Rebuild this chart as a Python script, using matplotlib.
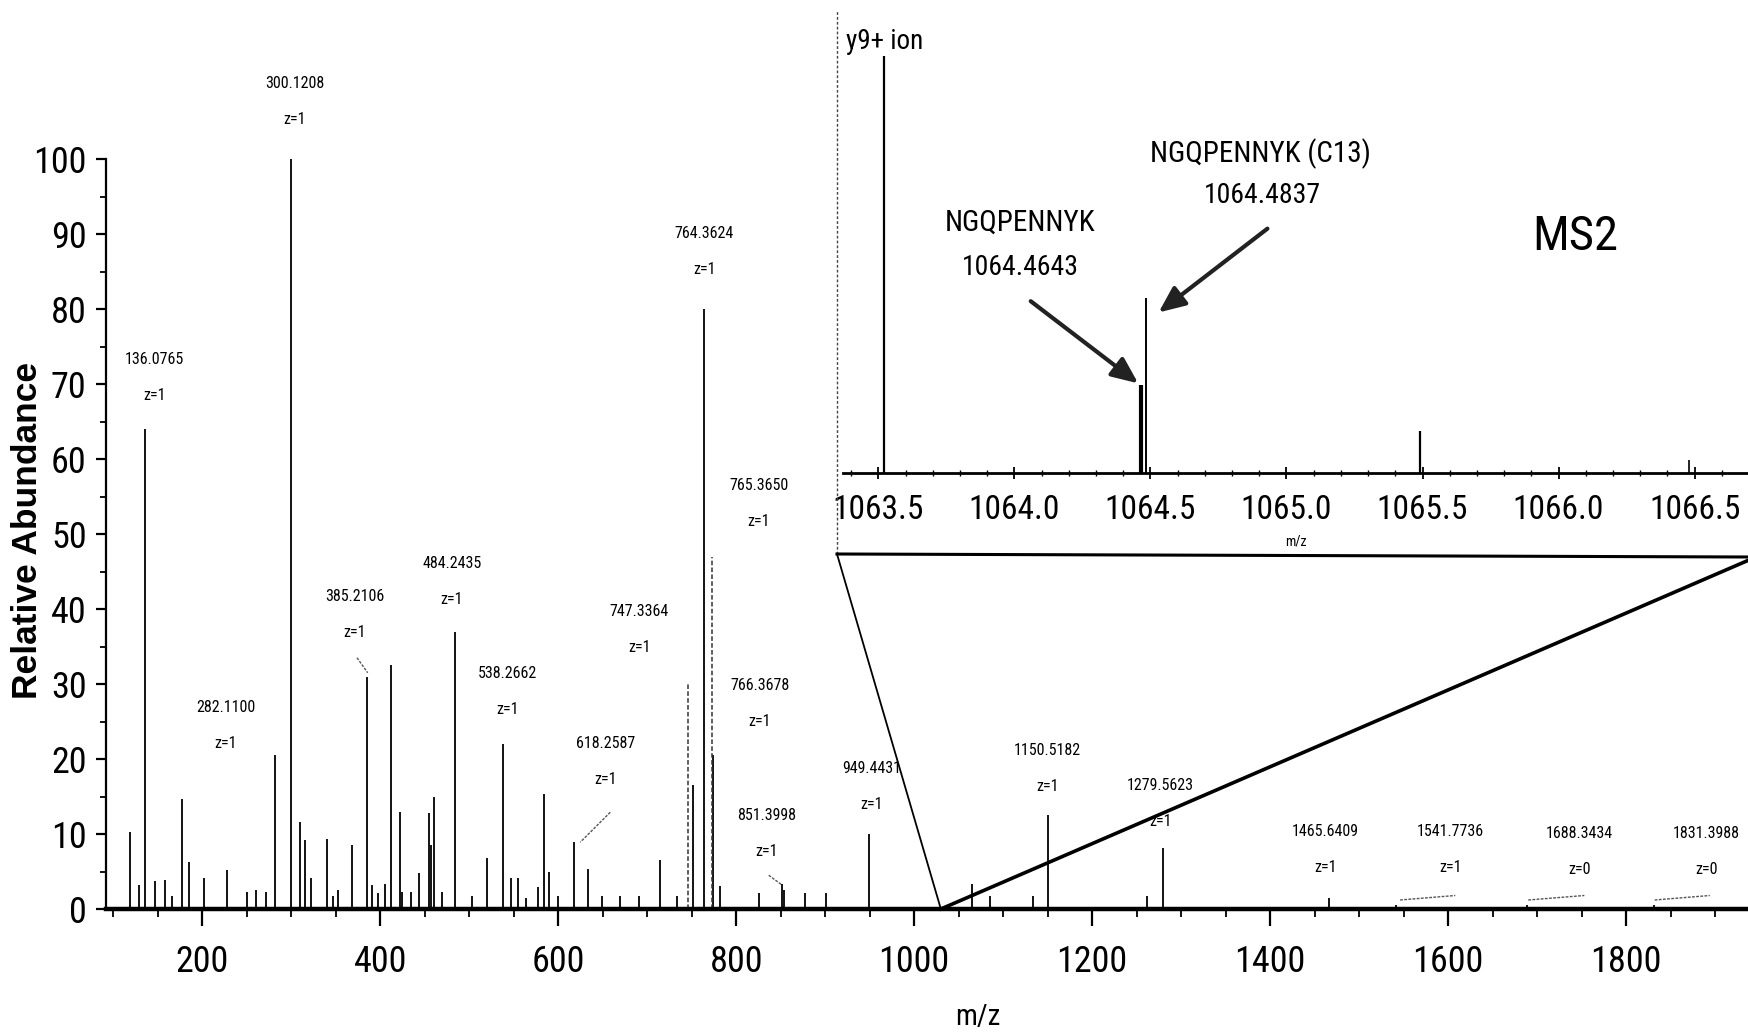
import matplotlib
matplotlib.use("Agg")
import matplotlib.pyplot as plt
from matplotlib import font_manager as fm
from matplotlib.lines import Line2D
from matplotlib.ticker import MultipleLocator, FormatStrFormatter

# pick the narrowest installed face for the condensed instrument lettering
_faces = [(f.name, f.stretch) for f in fm.fontManager.ttflist]
_names = {n for n, _ in _faces}
_cond = sorted({n for n, s in _faces if s in ('condensed', 'semi-condensed', 'extra-condensed',
                                               'ultra-condensed', 625, 500, 750)
                or 'Condensed' in n or 'Narrow' in n})
chosen = None
for cand in ['Liberation Sans Narrow', 'Roboto Condensed', 'Open Sans Condensed',
             'DejaVu Sans Condensed', 'Arial Narrow'] + _cond:
    if cand in _names:
        chosen = cand
        break
STRETCH = 'normal'
if chosen is None:
    if any(n == 'DejaVu Sans' and s in ('condensed', 'semi-condensed') for n, s in _faces):
        chosen, STRETCH = 'DejaVu Sans', 'condensed'
    elif 'Roboto' in _names:
        chosen = 'Roboto'
    else:
        chosen = 'Liberation Sans'
NARROW = [chosen, 'DejaVu Sans']
plt.rcParams['font.family'] = NARROW
plt.rcParams['font.stretch'] = STRETCH

# ---------------- data ----------------
peak_mz = [119.3, 129.5, 136.08, 146.7, 158, 166, 177, 185, 202.6, 227.4,
           250, 260, 272, 282.11, 300.12, 310, 316, 322.7, 340.7, 347,
           353, 368, 385.21, 390.6, 397.7, 406, 412, 422, 425, 435,
           444, 455, 457, 461, 470, 484.24, 502.8, 519.7, 538.27, 547,
           555, 564, 577, 584, 590, 600, 618.26, 634, 649, 669,
           691, 715, 734, 745.5, 751, 764.36, 772.5, 774, 782, 826,
           851.4, 854, 877, 901, 949.44, 1065, 1085, 1134, 1150.52, 1262,
           1279.56, 1465.64, 1541.77, 1688.34, 1831.40]
peak_int = [10.3, 3.2, 64, 3.7, 3.9, 1.8, 14.7, 6.3, 4.1, 5.2,
            2.3, 2.6, 2.3, 20.5, 100, 11.6, 9.2, 4.1, 9.4, 1.7,
            2.6, 8.5, 31, 3.2, 2.1, 3.4, 32.5, 13, 2.3, 2.3,
            4.8, 12.8, 8.6, 15, 2.3, 37, 1.7, 6.8, 22, 4.1,
            4.2, 1.5, 3, 15.4, 5, 1.8, 9, 5.4, 1.7, 1.7,
            1.7, 6.5, 1.7, 30, 16.5, 80, 47, 20.5, 3.1, 2.2,
            3.3, 2.6, 2.2, 2.2, 10, 3.4, 1.7, 1.7, 12.5, 1.7,
            8.2, 1.5, 0.5, 0.5, 0.5]
dashed_peaks = [745.5, 772.5]

label_mz = ['136.0765', '300.1208', '282.1100', '385.2106', '484.2435',
            '538.2662', '618.2587', '747.3364', '764.3624', '765.3650',
            '766.3678', '851.3998', '949.4431', '1150.5182', '1279.5623',
            '1465.6409', '1541.7736', '1688.3434', '1831.3988']
label_z = ['z=1', 'z=1', 'z=1', 'z=1', 'z=1', 'z=1', 'z=1', 'z=1', 'z=1', 'z=1',
           'z=1', 'z=1', 'z=1', 'z=1', 'z=1', 'z=1', 'z=1', 'z=0', 'z=0']

inset_mz = [1063.52, 1064.4643, 1064.4837, 1065.49, 1066.48]
inset_int = [100, 21, 42, 10, 3]

# ---------------- layout (positions of annotations) ----------------
label_xy = [(146.1, 73.2), (304, 110.1), (226.3, 26.9), (371.7, 41.7), (480.7, 46.1),
            (543.4, 31.4), (653.6, 22.0), (691.2, 39.7), (763.9, 90.0), (825.3, 56.5),
            (826.6, 29.8), (834.1, 12.5), (951.9, 18.75), (1149.9, 21.1), (1276.4, 16.5),
            (1461.9, 10.4), (1602.3, 10.4), (1747.6, 10.0), (1890.5, 10.0)]
leaders = [((374, 33.5), (386, 31.5)), ((658.6, 12.9), (624.8, 8.9)),
           ((836.6, 4.5), (850.4, 3.3)), ((1546, 1.2), (1608, 1.8)),
           ((1690, 1.2), (1753, 1.8)), ((1832, 1.2), (1894, 1.8))]

W, H = 1749, 1036
fig = plt.figure(figsize=(W / 100, H / 100), dpi=100)

# ---------------- main spectrum ----------------
ax = fig.add_axes([106 / W, 127 / H, 1 - 106 / W, 750 / H])
ax.set_xlim(92, 1938)
ax.set_ylim(0, 100)
ax.patch.set_alpha(0)

solid_x = [m for m in peak_mz if m not in dashed_peaks]
solid_y = [i for m, i in zip(peak_mz, peak_int) if m not in dashed_peaks]
dash_x = [m for m in peak_mz if m in dashed_peaks]
dash_y = [i for m, i in zip(peak_mz, peak_int) if m in dashed_peaks]
ax.vlines(solid_x, 0, solid_y, colors='black', linewidth=1.3, clip_on=False)
ax.vlines(dash_x, 0, dash_y, colors='#333333', linewidth=1.1,
          linestyles=(0, (3, 1.5)), clip_on=False)

for txt, z, (lx, ly) in zip(label_mz, label_z, label_xy):
    ax.text(lx, ly, txt, ha='center', va='center', fontsize=11.5, clip_on=False)
    ax.text(lx, ly - 4.8, z, ha='center', va='center', fontsize=11.5, clip_on=False)
for (x0, y0), (x1, y1) in leaders:
    ax.plot([x0, x1], [y0, y1], color='#555555', lw=1.0, ls=(0, (2, 1)), clip_on=False)

for s in ['top', 'right']:
    ax.spines[s].set_visible(False)
ax.spines['bottom'].set_linewidth(3.2)
ax.spines['left'].set_linewidth(1.6)
ax.xaxis.set_major_locator(MultipleLocator(200))
ax.xaxis.set_minor_locator(MultipleLocator(50))
ax.yaxis.set_major_locator(MultipleLocator(10))
ax.yaxis.set_minor_locator(MultipleLocator(5))
ax.tick_params(axis='x', which='major', length=12, width=1.6, pad=13, labelsize=26)
ax.tick_params(axis='x', which='minor', length=6, width=1.3)
ax.tick_params(axis='y', which='major', length=7, width=1.6, pad=7, labelsize=26)
ax.tick_params(axis='y', which='minor', length=4, width=1.3)

fig.text(28 / W, 1 - 530 / H, 'Relative Abundance', rotation=90, ha='center', va='center',
         fontsize=25.5, fontweight='bold', family=['Liberation Sans', 'DejaVu Sans'],
         fontstretch='normal')
fig.text(978 / W, 1 - 1017 / H, 'm/z', ha='center', va='center', fontsize=21)

# ---------------- inset ----------------
ins = fig.add_axes([843 / W, 1 - 473 / H, 1 - 843 / W, 417 / H])
ins.set_xlim(1063.37, 1066.7)
ins.set_ylim(0, 100)
ins.patch.set_alpha(0)
for s in ['top', 'right', 'left']:
    ins.spines[s].set_visible(False)
ins.spines['bottom'].set_linewidth(2.0)
ins.vlines(inset_mz, 0, inset_int, colors='black', linewidth=[1.6, 3.0, 1.4, 1.6, 1.2])
ins.set_yticks([])
ins.xaxis.set_major_locator(MultipleLocator(0.5))
ins.xaxis.set_minor_locator(MultipleLocator(0.1))
ins.xaxis.set_major_formatter(FormatStrFormatter('%.1f'))
ins.tick_params(axis='x', which='major', direction='inout', length=8, width=1.3,
                pad=11, labelsize=24)
ins.tick_params(axis='x', which='minor', direction='inout', length=5, width=1.0)
ins.text(0.5, -0.165, 'm/z', transform=ins.transAxes, ha='center', va='center', fontsize=10)

ins.text(1063.38, 103.5, 'y9+ ion', ha='left', va='center', fontsize=19.5, clip_on=False)
ins.text(1064.022, 59.9, 'NGQPENNYK', ha='center', va='center', fontsize=21)
ins.text(1064.022, 49.4, '1064.4643', ha='center', va='center', fontsize=20)
ins.text(1064.904, 76.5, 'NGQPENNYK (C13)', ha='center', va='center', fontsize=21)
ins.text(1064.912, 66.6, '1064.4837', ha='center', va='center', fontsize=20)
ins.text(1066.063, 56.7, 'MS2', ha='center', va='center', fontsize=35)
arrow_kw = dict(arrowstyle='-|>,head_length=1.6,head_width=0.7', color='#222222',
                lw=3.0, shrinkA=0, shrinkB=0)
ins.annotate('', xy=(1064.455, 21.5), xytext=(1064.06, 41.2), arrowprops=arrow_kw)
ins.annotate('', xy=(1064.53, 38.5), xytext=(1064.93, 58.6), arrowprops=arrow_kw)

# box and zoom lines (figure coordinates)
bx0, by0 = 837 / W, 1 - 554 / H
fig.add_artist(Line2D([bx0, bx0], [by0, 1 - 11 / H], color='#444444', lw=1.0,
                      ls=(0, (2, 1.5))))
fig.add_artist(Line2D([bx0, 1.0], [by0, 1 - 557 / H], color='black', lw=2.2))
px, py = fig.transFigure.inverted().transform(ax.transData.transform((1030, 0)))
fig.add_artist(Line2D([bx0, px], [by0, py], color='black', lw=1.3))
fig.add_artist(Line2D([px, 1.0], [py, 1 - 560 / H], color='black', lw=2.6))

fig.savefig('out.png', dpi=100)
